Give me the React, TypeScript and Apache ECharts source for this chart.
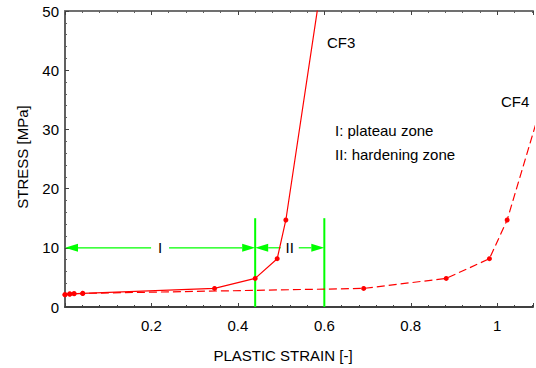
import React, { useEffect, useRef } from "react";
import * as echarts from "echarts";

// ---- data ----
const cf3Strain = [0, 0.011, 0.021, 0.041, 0.346, 0.44, 0.491, 0.511, 0.6];
const cf3Stress = [2.08, 2.2, 2.25, 2.3, 3.14, 4.83, 8.16, 14.7, 58];
const cf4Strain = [0, 0.011, 0.021, 0.041, 0.691, 0.882, 0.982, 1.023, 1.2];
const cf4Stress = [2.08, 2.2, 2.25, 2.3, 3.14, 4.83, 8.16, 14.7, 58];

const zoneStart = [0, 0.44];
const zoneEnd = [0.44, 0.6];
const zoneLabels = ["I", "II"];
const zoneArrowStress = 10;
const zoneMarkerTop = 15;

const xTicks = [0.2, 0.4, 0.6, 0.8, 1];
const yTicks = [0, 10, 20, 30, 40, 50];

const FONT = "'Liberation Sans', Arial, Helvetica, sans-serif";
const GREEN = "#00ff00";
const RED = "#ff0000";

export default function App() {
  const ref = useRef<HTMLDivElement>(null);

  useEffect(() => {
    document.body.style.margin = "0";
    if (!ref.current) return;
    const chart = echarts.init(ref.current, null, { renderer: "svg" });

    const pairs = (xs: number[], ys: number[]) => xs.map((x, i) => [x, ys[i]]);

    const xLabel = (v: number) => {
      if (Math.abs(v) < 1e-9) return "";
      const hit = xTicks.find((t) => Math.abs(t - v) < 1e-6);
      return hit === undefined ? "" : String(hit);
    };

    const yLabel = (v: number) => {
      const hit = yTicks.find((t) => Math.abs(t - v) < 1e-6);
      return hit === undefined ? "" : String(hit);
    };

    const option: any = {
      animation: false,
      backgroundColor: "#ffffff",
      textStyle: { fontFamily: FONT },
      grid: { left: 65, right: 0, top: 11, bottom: 61, containLabel: false },
      xAxis: [
        {
          type: "value",
          min: 0,
          max: 1.0828,
          interval: 0.2,
          position: "bottom",
          splitLine: { show: false },
          axisLine: { show: true, lineStyle: { color: "#404040", width: 2 } },
          axisTick: { show: true, inside: true, length: 4, lineStyle: { color: "#404040", width: 1 } },
          minorTick: { show: true, splitNumber: 5, length: 2, lineStyle: { color: "#404040", width: 1 } },
          axisLabel: { formatter: xLabel, color: "#000", fontSize: 15, fontFamily: FONT, margin: 11 },
        },
        {
          type: "value",
          min: 0,
          max: 1.0828,
          interval: 0.2,
          position: "top",
          splitLine: { show: false },
          axisLine: { show: true, onZero: false, lineStyle: { color: "#707070", width: 2 } },
          axisTick: { show: true, inside: true, length: 4, lineStyle: { color: "#404040", width: 1 } },
          minorTick: { show: true, splitNumber: 5, length: 2, lineStyle: { color: "#606060", width: 1 } },
          axisLabel: { show: false },
        },
      ],
      yAxis: {
        type: "value",
        min: 0,
        max: 50,
        interval: 10,
        splitLine: { show: false },
        axisLine: { show: true, lineStyle: { color: "#606060", width: 2 } },
        axisTick: { show: true, inside: true, length: 4, lineStyle: { color: "#404040", width: 1 } },
        minorTick: { show: true, splitNumber: 5, length: 2, lineStyle: { color: "#606060", width: 1 } },
        axisLabel: { formatter: yLabel, color: "#000", fontSize: 15, fontFamily: FONT, margin: 6 },
      },
      series: [
        {
          type: "custom",
          name: "zones",
          z: 1,
          xAxisIndex: 0,
          encode: { x: [0, 1], y: [2, 3] },
          data: zoneStart.map((s, i) => [s, zoneEnd[i], zoneArrowStress, zoneMarkerTop]),
          renderItem: (params: any, api: any) => {
            const s = api.value(0);
            const e = api.value(1);
            const lvl = api.value(2);
            const top = api.value(3);
            const p0 = api.coord([s, lvl]);
            const p1 = api.coord([e, lvl]);
            const pt = api.coord([e, top]);
            const pb = api.coord([e, 0]);
            const y = p0[1];
            const mid = (p0[0] + p1[0]) / 2;
            const gap = 9;
            const aL = 13;
            const aH = 4;
            const lineStyle = { stroke: GREEN, lineWidth: 1.2 };
            return {
              type: "group",
              children: [
                {
                  type: "line",
                  shape: { x1: p0[0] + aL, y1: y, x2: mid - gap, y2: y },
                  style: lineStyle,
                },
                {
                  type: "line",
                  shape: { x1: mid + gap, y1: y, x2: p1[0] - aL, y2: y },
                  style: lineStyle,
                },
                {
                  type: "polygon",
                  shape: { points: [[p0[0], y], [p0[0] + aL, y - aH], [p0[0] + aL, y + aH]] },
                  style: { fill: GREEN },
                },
                {
                  type: "polygon",
                  shape: { points: [[p1[0], y], [p1[0] - aL, y - aH], [p1[0] - aL, y + aH]] },
                  style: { fill: GREEN },
                },
                {
                  type: "line",
                  shape: { x1: pt[0], y1: pt[1], x2: pb[0], y2: pb[1] },
                  style: { stroke: GREEN, lineWidth: 2 },
                },
                {
                  type: "text",
                  x: mid,
                  y: y,
                  style: {
                    text: zoneLabels[params.dataIndex],
                    fill: "#000",
                    font: `15px ${FONT}`,
                    align: "center",
                    verticalAlign: "middle",
                  },
                },
              ],
            };
          },
        },
        {
          type: "line",
          name: "CF4",
          z: 3,
          data: pairs(cf4Strain, cf4Stress),
          symbol: "circle",
          symbolSize: 5,
          showSymbol: true,
          clip: true,
          lineStyle: { color: RED, width: 1.2, type: [8, 4] },
          itemStyle: { color: RED },
        },
        {
          type: "line",
          name: "CF3",
          z: 4,
          data: pairs(cf3Strain, cf3Stress),
          symbol: "circle",
          symbolSize: 5,
          showSymbol: true,
          clip: true,
          lineStyle: { color: RED, width: 1.2 },
          itemStyle: { color: RED },
        },
      ],
      graphic: [
        {
          type: "text",
          x: 327,
          y: 42,
          style: { text: "CF3", fill: "#000", font: `15px ${FONT}`, verticalAlign: "middle" },
        },
        {
          type: "text",
          x: 501,
          y: 101,
          style: { text: "CF4", fill: "#000", font: `15px ${FONT}`, verticalAlign: "middle" },
        },
        {
          type: "text",
          x: 335,
          y: 130,
          style: { text: "I: plateau zone", fill: "#000", font: `15px ${FONT}`, verticalAlign: "middle" },
        },
        {
          type: "text",
          x: 335,
          y: 154,
          style: { text: "II: hardening zone", fill: "#000", font: `15px ${FONT}`, verticalAlign: "middle" },
        },
        {
          type: "text",
          x: 283,
          y: 355,
          style: {
            text: "PLASTIC STRAIN [-]",
            fill: "#000",
            font: `15px ${FONT}`,
            align: "center",
            verticalAlign: "middle",
          },
        },
        {
          type: "text",
          x: 22,
          y: 157,
          rotation: Math.PI / 2,
          style: {
            text: "STRESS [MPa]",
            fill: "#000",
            font: `15px ${FONT}`,
            align: "center",
            verticalAlign: "middle",
          },
        },
      ],
    };

    chart.setOption(option);
    return () => chart.dispose();
  }, []);

  return <div ref={ref} style={{ width: 536, height: 368 }} />;
}
